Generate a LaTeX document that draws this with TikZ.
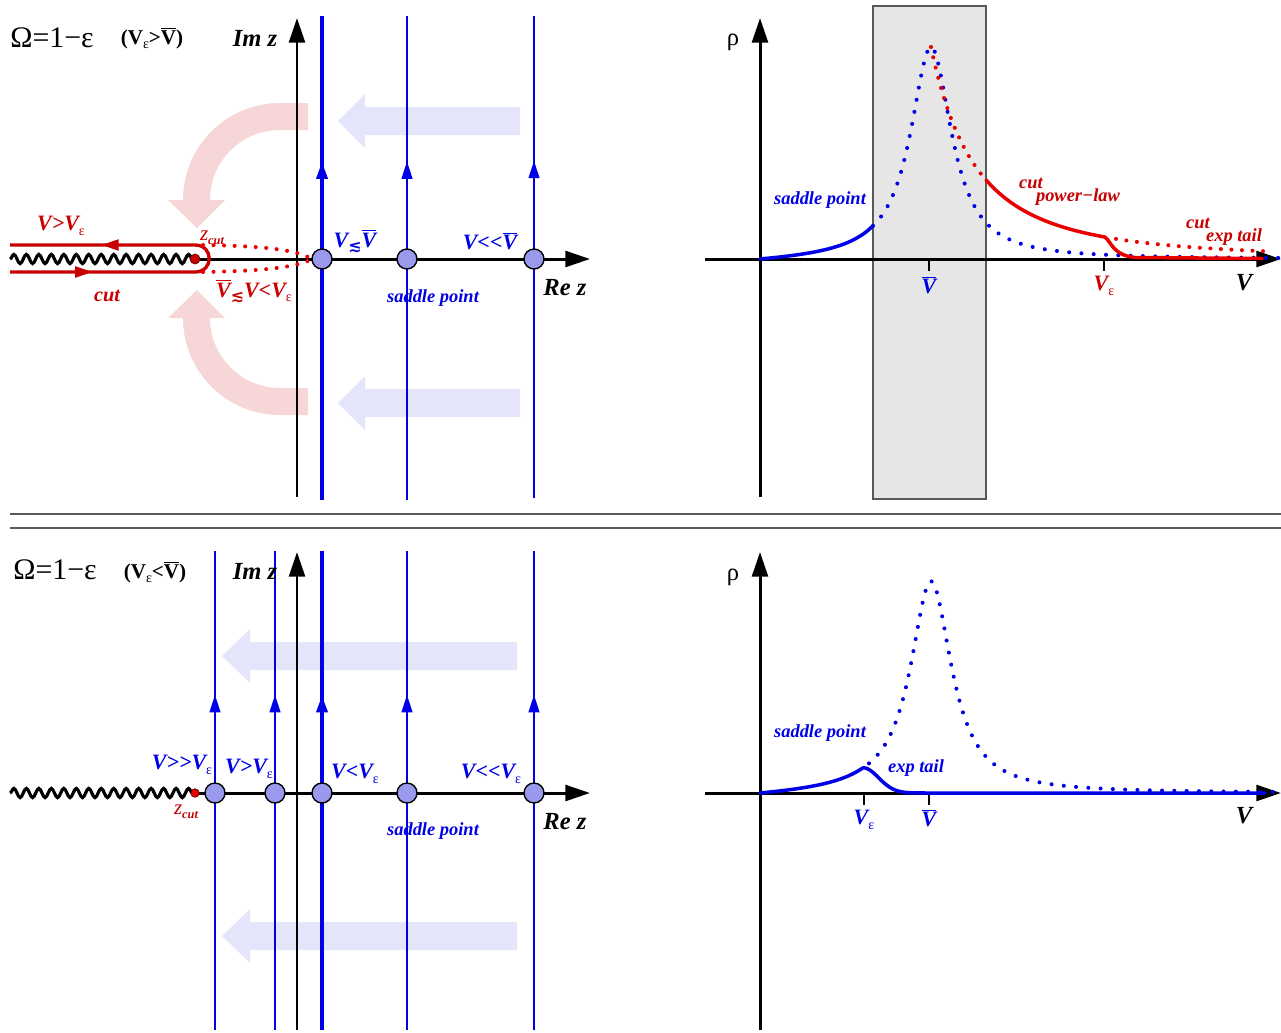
\documentclass[tikz,border=0pt]{standalone}
\usepackage{fontspec}
\setmainfont{Liberation Serif}
\newfontfamily\djv{DejaVu Sans}
\usetikzlibrary{arrows.meta,decorations.pathmorphing,decorations.markings}

\definecolor{cblue}{RGB}{0,0,230}
\definecolor{cdred}{RGB}{200,0,0}
\definecolor{cred}{RGB}{235,0,0}
\definecolor{cpink}{RGB}{246,214,214}
\definecolor{clblue}{RGB}{228,228,250}
\definecolor{cnode}{RGB}{153,153,238}
\definecolor{cgrey}{RGB}{230,230,230}

\newcommand\sbe{\raisebox{-0.45ex}{\fontsize{8}{8}\selectfont\mdseries\upshape ε}}
\newcommand\vb{\ensuremath{\overline{\mbox{V}}}}
\newcommand\lsim{\raisebox{-0.45ex}{\djv\fontsize{9}{9}\selectfont ≲}}

\tikzset{
  ax/.style={line width=1.7pt, -{Triangle[length=14pt,width=9pt]}},
  tick/.style={line width=1.1pt},
  bline/.style={cblue, line width=1.4pt, postaction={decorate},
    decoration={markings, mark=at position 0.7 with {\arrow{Triangle[length=10pt,width=6pt]}}}},
  bthick/.style={bline, line width=2.6pt},
  sp/.style={circle, fill=cnode, draw=black, line width=0.8pt, minimum size=0.4cm, inner sep=0pt},
  zdot/.style={circle, fill=cdred, draw=black!60!red, line width=0.4pt, minimum size=0.2cm, inner sep=0pt},
  wave/.style={line width=1.8pt, decorate, decoration={snake, amplitude=2.6pt, segment length=7.1pt}},
  contour/.style={cdred, line width=1.9pt, postaction={decorate},
    decoration={markings,
      mark=at position 0.2 with {\arrow{Triangle[length=10pt,width=6pt]}},
      mark=at position 0.78 with {\arrow{Triangle[length=10pt,width=6pt]}}}},
  rdots/.style={cred, line width=2.3pt, line cap=round, dash pattern=on 0pt off 6pt},
  bdots/.style={cblue, line width=2.3pt, line cap=round, dash pattern=on 0pt off 7pt},
  bsolid/.style={cblue, line width=2pt, line cap=round, line join=round},
  rsolid/.style={cred, line width=2pt, line cap=round, line join=round},
  lab/.style={font=\fontsize{12.5}{14}\selectfont\bfseries\itshape, inner sep=0pt},
  slab/.style={font=\fontsize{10.5}{12}\selectfont\bfseries\itshape, inner sep=0pt},
  axlab/.style={font=\fontsize{14}{16}\selectfont\bfseries\itshape, inner sep=0pt},
  ttl/.style={font=\fontsize{17}{19}\selectfont, inner sep=0pt},
  sttl/.style={font=\fontsize{12}{14}\selectfont\bfseries, inner sep=0pt},
  rho/.style={font=\fontsize{14}{16}\selectfont, inner sep=0pt},
  sep/.style={draw=black!65, line width=1pt}
}

\begin{document}
\begin{tikzpicture}[x=0.02cm,y=-0.02cm]
\useasboundingbox (0,0) rectangle (1281,1032);

% ================= background shapes =================
\fill[cpink] (308,103) -- (280,103) .. controls (226.4,103) and (183,146.4) .. (183,200)
  -- (168,200) -- (197,228) -- (225,200) -- (210,200)
  .. controls (210,161.3) and (241.3,130) .. (280,130) -- (308,130) -- cycle;
\fill[cpink] (308,415) -- (280,415) .. controls (226.4,415) and (183,371.6) .. (183,318)
  -- (168,318) -- (197,290) -- (225,318) -- (210,318)
  .. controls (210,356.7) and (241.3,388) .. (280,388) -- (308,388) -- cycle;
\fill[clblue] (520,107) -- (365,107) -- (365,94) -- (338,121) -- (365,148) -- (365,135) -- (520,135) -- cycle;
\fill[clblue] (520,389) -- (365,389) -- (365,376) -- (338,403) -- (365,430) -- (365,417) -- (520,417) -- cycle;
\fill[clblue] (517,642) -- (250,642) -- (250,629) -- (222,656) -- (250,683) -- (250,670) -- (517,670) -- cycle;
\fill[clblue] (517,922) -- (250,922) -- (250,909) -- (222,936) -- (250,963) -- (250,950) -- (517,950) -- cycle;
\filldraw[fill=cgrey, draw=black!65, line width=0.7pt] (873,6) rectangle (986,499);

% separators
\coordinate (sa1) at (10,514); \coordinate (sa2) at (1281,514);
\coordinate (sb1) at (10,528); \coordinate (sb2) at (1281,528);
\draw[sep] (sa1) -- (sa2);
\draw[sep] (sb1) -- (sb2);

% ================= TOP LEFT =================
\coordinate (A1b) at (297,497); \coordinate (A1t) at (297,18);
\coordinate (W1) at (10,259); \coordinate (Z1) at (195,259); \coordinate (R1) at (590,259);
\coordinate (ta b) at (322,500); \coordinate (ta t) at (322,16);
\coordinate (tb b) at (407,500); \coordinate (tb t) at (407,16);
\coordinate (tc b) at (534,498); \coordinate (tc t) at (534,16);
\draw[bthick] (ta b) -- (ta t);
\draw[bline] (tb b) -- (tb t);
\draw[bline] (tc b) -- (tc t);
\draw[ax] (A1b) -- (A1t);
\draw[wave] (W1) -- (Z1);
\draw[ax] (Z1) -- (R1);
\coordinate (cA) at (10,272); \coordinate (cB) at (195,272);
\coordinate (cC) at (195,245); \coordinate (cD) at (10,245);
\draw[contour] (cA) -- (cB) .. controls (214,272) and (214,245) .. (cC) -- (cD);
\coordinate (dT) at (203,245); \coordinate (dB) at (203,272); \coordinate (dE) at (312,259);
\draw[rdots] (dT) .. controls (260,246) and (295,249) .. (dE);
\draw[rdots] (dB) .. controls (260,271) and (295,268) .. (dE);
\node[zdot] (z1) at (Z1) {};
\node[sp] (s1a) at (322,259) {};
\node[sp] (s1b) at (407,259) {};
\node[sp] (s1c) at (534,259) {};
\node[ttl] (T1) at (52,38) {Ω=1−ε};
\node[sttl] (T1b) at (152,38) {(V\sbe>\vb)};
\node[axlab] (im1) at (255,38) {Im z};
\node[axlab] (re1) at (565,288) {Re z};
\node[lab, cdred] (l1a) at (61,226) {V>V\sbe};
\node[font=\fontsize{12}{14}\selectfont\itshape, cdred, inner sep=0pt] (zc1) at (212,238) {z\raisebox{-0.4ex}{\fontsize{7}{7}\selectfont\bfseries cut}};
\node[cdred, inner sep=0pt, font=\fontsize{11.5}{13}\selectfont\bfseries\itshape] (cut1) at (107,296) {cut};
\node[lab, cdred] (l1b) at (254,291) {\vb\lsim V<V\sbe};
\node[lab, cblue] (l1c) at (355,241) {V\lsim\vb};
\node[lab, cblue] (l1d) at (490,241) {V<{}<\vb};
\node[slab, cblue] (sp1) at (433,298) {saddle point};

% ================= TOP RIGHT =================
\coordinate (B1b) at (760,497); \coordinate (B1t) at (760,18);
\coordinate (H1a) at (705,259); \coordinate (H1b) at (1281,259);
\draw[ax] (B1b) -- (B1t);
\draw[ax] (H1a) -- (H1b);
\coordinate (k1) at (929,259); \coordinate (k1d) at (929,271);
\coordinate (k2) at (1104,259); \coordinate (k2d) at (1104,271);
\draw[tick] (k1) -- (k1d);
\draw[tick] (k2) -- (k2d);
\draw[bdots] plot[domain=873:1281, samples=160] (\x, {259-212/(1+((\x-931)/25)^2)});
\draw[bsolid] plot[domain=760:873, samples=50] (\x, {259-(212/(1+((\x-931)/25)^2) - 4.4*(873-\x)/113)});
\draw[rdots] plot[domain=931:986, samples=40] (\x, {259-212/(1+(\x-931)/100)^2.25});
\draw[rsolid] plot[domain=986:1105, samples=50] (\x, {259-212/(1+(\x-931)/100)^2.25})
   .. controls (1112,243) and (1113,255) .. (1135,257.5) -- (1262,258.5);
\draw[rdots] plot[domain=1116:1272, samples=60] (\x, {259-212/(1+(\x-931)/100)^2.25});
\node[rho] (rho1) at (733,42) {ρ};
\node[axlab] (v1) at (1244,283) {V};
\node[lab, cblue] (vb1) at (929,285) {\vb};
\node[lab, cdred] (ve1) at (1104,286) {V\sbe};
\node[slab, cblue] (sp2) at (820,200) {saddle point};
\node[slab, cdred] (cu2) at (1031,183) {cut};
\node[slab, cdred] (pl2) at (1078,197) {power−law};
\node[slab, cdred] (cu3) at (1198,223) {cut};
\node[slab, cdred] (et3) at (1234,237) {exp tail};

% ================= BOTTOM LEFT =================
\coordinate (A2b) at (297,1030); \coordinate (A2t) at (297,552);
\coordinate (W2) at (10,793); \coordinate (Z2) at (195,793); \coordinate (R2) at (590,793);
\coordinate (ua b) at (215,1030); \coordinate (ua t) at (215,551);
\coordinate (ub b) at (275,1030); \coordinate (ub t) at (275,551);
\coordinate (uc b) at (322,1030); \coordinate (uc t) at (322,551);
\coordinate (ud b) at (407,1030); \coordinate (ud t) at (407,551);
\coordinate (ue b) at (534,1030); \coordinate (ue t) at (534,551);
\draw[bline] (ua b) -- (ua t);
\draw[bline] (ub b) -- (ub t);
\draw[bthick] (uc b) -- (uc t);
\draw[bline] (ud b) -- (ud t);
\draw[bline] (ue b) -- (ue t);
\draw[ax] (A2b) -- (A2t);
\draw[wave] (W2) -- (Z2);
\draw[ax] (Z2) -- (R2);
\node[zdot, fill=red!90!black, minimum size=0.17cm] (z2) at (Z2) {};
\node[sp] (s2a) at (215,793) {};
\node[sp] (s2b) at (275,793) {};
\node[sp] (s2c) at (322,793) {};
\node[sp] (s2d) at (407,793) {};
\node[sp] (s2e) at (534,793) {};
\node[ttl] (T2) at (55,570) {Ω=1−ε};
\node[sttl] (T2b) at (155,572) {(V\sbe<\vb)};
\node[axlab] (im2) at (255,571) {Im z};
\node[axlab] (re2) at (565,822) {Re z};
\node[lab, cblue] (l2a) at (182,765) {V>{}>V\sbe};
\node[lab, cblue] (l2b) at (249,769) {V>V\sbe};
\node[lab, cblue] (l2c) at (355,774) {V<V\sbe};
\node[lab, cblue] (l2d) at (491,774) {V<{}<V\sbe};
\node[font=\fontsize{12}{14}\selectfont\itshape, cdred, inner sep=0pt] (zc2) at (186,812) {z\raisebox{-0.4ex}{\fontsize{7}{7}\selectfont\bfseries cut}};
\node[slab, cblue] (sp3) at (433,831) {saddle point};

% ================= BOTTOM RIGHT =================
\coordinate (B2b) at (760,1030); \coordinate (B2t) at (760,552);
\coordinate (H2a) at (705,793); \coordinate (H2b) at (1281,793);
\draw[ax] (B2b) -- (B2t);
\draw[ax] (H2a) -- (H2b);
\coordinate (k3) at (864,793); \coordinate (k3d) at (864,805);
\coordinate (k4) at (929,793); \coordinate (k4d) at (929,805);
\draw[tick] (k3) -- (k3d);
\draw[tick] (k4) -- (k4d);
\draw[bdots] plot[domain=869:1281, samples=160] (\x, {793-212/(1+((\x-931)/25)^2)});
\draw[bsolid] plot[domain=760:863, samples=50] (\x, {793-(212/(1+((\x-931)/25)^2) - 4.4*(863-\x)/103)})
   -- plot[domain=863:925, samples=40] (\x, {793-25.24*exp(-((\x-863)/22)^2)}) -- (1265,793);
\node[rho] (rho2) at (733,577) {ρ};
\node[axlab] (v2) at (1244,816) {V};
\node[lab, cblue] (ve2) at (864,820) {V\sbe};
\node[lab, cblue] (vb2) at (929,818) {\vb};
\node[slab, cblue] (sp4) at (820,733) {saddle point};
\node[slab, cblue] (et4) at (916,768) {exp tail};
\end{tikzpicture}
\end{document}
